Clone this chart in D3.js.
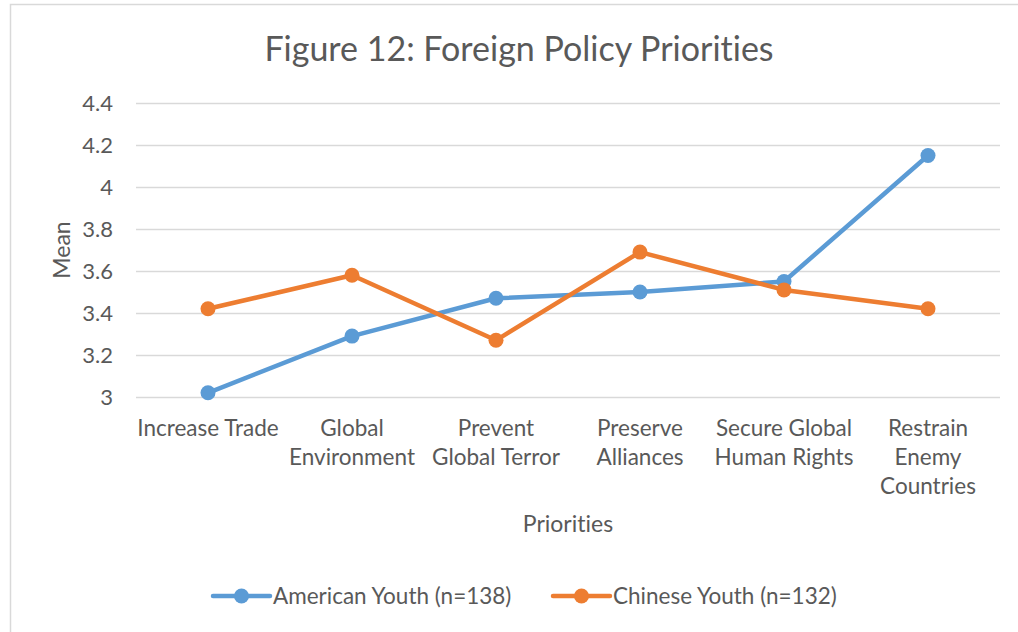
<!DOCTYPE html>
<html>
<head>
<meta charset="utf-8">
<script src="https://cdn.jsdelivr.net/npm/d3@7"></script>
<style>
  html, body { margin: 0; padding: 0; background: #fff; }
  svg { display: block; }
  text { font-family: Lato, "Open Sans", sans-serif; fill: #595959; font-variant-ligatures: none; }
</style>
</head>
<body>
<svg id="chart" width="1018" height="632"></svg>
<script>
// Survey means by priority (5-point scale)
const categories = [
  "Increase Trade",
  "Global\nEnvironment",
  "Prevent\nGlobal Terror",
  "Preserve\nAlliances",
  "Secure Global\nHuman Rights",
  "Restrain\nEnemy\nCountries"
];
const americanYouth = [3.02, 3.29, 3.47, 3.50, 3.55, 4.15];
const chineseYouth  = [3.42, 3.58, 3.27, 3.69, 3.51, 3.42];
const seriesNames = ["American Youth (n=138)", "Chinese Youth (n=132)"];
const seriesColors = ["#5B9BD5", "#ED7D31"];
const yTicks = [3, 3.2, 3.4, 3.6, 3.8, 4, 4.2, 4.4];

const title = "Figure 12: Foreign Policy Priorities";
const xTitle = "Priorities";
const yTitle = "Mean";

const svg = d3.select("#chart");
const W = 1018, H = 632;
const plot = { left: 136, right: 1000, top: 103, bottom: 397 };

// Outer chart frame
svg.append("rect")
  .attr("x", 10.5).attr("y", 4.5)
  .attr("width", W + 10).attr("height", H + 10)
  .attr("fill", "#fff").attr("stroke", "#d9d9d9").attr("stroke-width", 1.5);

const x = d3.scaleBand().domain(categories).range([plot.left, plot.right]).padding(0);
const y = d3.scaleLinear().domain([3, 4.4]).range([plot.bottom, plot.top]);

// Horizontal gridlines + y tick labels
const yAxis = d3.axisLeft(y).tickValues(yTicks).tickSize(-(plot.right - plot.left))
  .tickPadding(23).tickFormat(d => d3.format("")(+d.toFixed(1)));
const gy = svg.append("g").attr("transform", `translate(${plot.left},0)`).call(yAxis);
gy.select(".domain").remove();
gy.selectAll(".tick line").attr("stroke", "#d9d9d9").attr("stroke-width", 1.5);
gy.selectAll(".tick text")
  .attr("fill", "#595959").style("font-family", "Lato, sans-serif").style("font-size", "22px");

// Category labels (multi-line, centred under each band)
const gx = svg.append("g");
categories.forEach(c => {
  const lines = c.split("\n");
  const t = gx.append("text")
    .attr("text-anchor", "middle")
    .attr("x", x(c) + x.bandwidth() / 2)
    .attr("y", 436)
    .style("font-size", "22.5px");
  lines.forEach((ln, i) => {
    t.append("tspan").attr("x", x(c) + x.bandwidth() / 2).attr("dy", i === 0 ? 0 : 29).text(ln);
  });
});

// Titles
svg.append("text").attr("x", 519).attr("y", 61).attr("text-anchor", "middle")
  .style("font-size", "34px").text(title);
svg.append("text").attr("x", 568).attr("y", 532).attr("text-anchor", "middle")
  .style("font-size", "23px").text(xTitle);
svg.append("text").attr("transform", "translate(70,250) rotate(-90)").attr("text-anchor", "middle")
  .style("font-size", "23px").text(yTitle);

// Series lines and markers
const cx = c => x(c) + x.bandwidth() / 2;
const line = d3.line().x((d, i) => cx(categories[i])).y(d => y(d));
[americanYouth, chineseYouth].forEach((vals, s) => {
  const g = svg.append("g");
  g.append("path").datum(vals)
    .attr("d", line).attr("fill", "none")
    .attr("stroke", seriesColors[s]).attr("stroke-width", 4.5)
    .attr("stroke-linejoin", "round").attr("stroke-linecap", "round");
  g.selectAll("circle").data(vals).join("circle")
    .attr("cx", (d, i) => cx(categories[i])).attr("cy", d => y(d))
    .attr("r", 7.5).attr("fill", seriesColors[s]);
});

// Legend
const legendX = [213, 553];
seriesNames.forEach((name, s) => {
  const g = svg.append("g").attr("transform", `translate(${legendX[s]},596)`);
  g.append("line").attr("x1", 0).attr("x2", 57).attr("y1", 0).attr("y2", 0)
    .attr("stroke", seriesColors[s]).attr("stroke-width", 4.5).attr("stroke-linecap", "round");
  g.append("circle").attr("cx", 28.5).attr("cy", 0).attr("r", 7.5).attr("fill", seriesColors[s]);
  g.append("text").attr("x", 60).attr("y", 8).style("font-size", "22.5px").text(name);
});
</script>
</body>
</html>
